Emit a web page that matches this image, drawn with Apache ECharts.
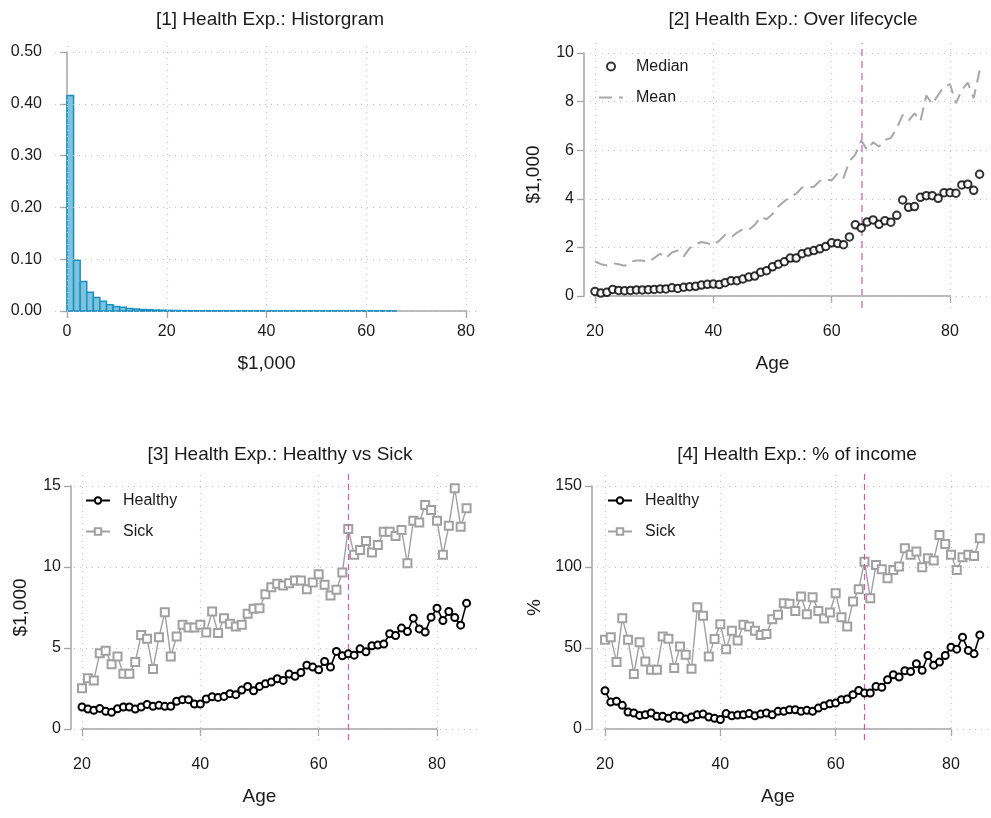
<!DOCTYPE html>
<html>
<head>
<meta charset="utf-8">
<script src="https://cdn.jsdelivr.net/npm/echarts@6/dist/echarts.min.js"></script>
<style>
  html, body { margin: 0; padding: 0; background: #fff; }
  #chart { width: 991px; height: 818px; }
</style>
</head>
<body>
<div id="chart"></div>
<script>
'use strict';

// ---- data ----
const ages = [20, 21, 22, 23, 24, 25, 26, 27, 28, 29, 30, 31, 32, 33, 34, 35, 36, 37, 38, 39,
  40, 41, 42, 43, 44, 45, 46, 47, 48, 49, 50, 51, 52, 53, 54, 55, 56, 57, 58, 59,
  60, 61, 62, 63, 64, 65, 66, 67, 68, 69, 70, 71, 72, 73, 74, 75, 76, 77, 78, 79,
  80, 81, 82, 83, 84, 85];

// [1] histogram, density per bin ($1,000 bins)
const histBinWidth = 1.32;
const histDensity = [0.416, 0.098, 0.057, 0.036, 0.026, 0.019, 0.012, 0.0085, 0.007, 0.0048,
  0.004, 0.003, 0.0025, 0.0018, 0.0014, 0.0011, 0.0009, 0.0007, 0.0006, 0.0005,
  0.0004, 0.0004, 0.0003, 0.0003, 0.00025, 0.0002, 0.0002, 0.0002, 0.00015, 0.00015,
  0.00012, 0.0001, 0.0001, 0.0001, 0.0001, 0.0001, 0.0001, 0.0001, 0.0001, 0.0001,
  0.0001, 0.0001, 0.0001, 0.0001, 0.0001, 0.0001, 0.0001, 0.0001, 0.0001, 0.0001];

// [2] over lifecycle ($1,000)
const medianExp = [0.19, 0.12, 0.15, 0.27, 0.23, 0.22, 0.23, 0.25, 0.25, 0.26,
  0.27, 0.29, 0.29, 0.34, 0.31, 0.36, 0.38, 0.40, 0.45, 0.48,
  0.49, 0.47, 0.55, 0.63, 0.63, 0.70, 0.78, 0.82, 0.98, 1.04,
  1.20, 1.31, 1.41, 1.56, 1.56, 1.74, 1.81, 1.87, 1.94, 2.04,
  2.19, 2.16, 2.11, 2.43, 2.93, 2.80, 3.05, 3.13, 2.95, 3.10,
  3.04, 3.32, 3.95, 3.65, 3.68, 4.06, 4.13, 4.13, 4.02, 4.25,
  4.25, 4.23, 4.57, 4.60, 4.35, 5.01];
const meanExp = [1.42, 1.31, 1.26, 1.35, 1.31, 1.24, 1.41, 1.46, 1.46, 1.40,
  1.56, 1.74, 1.56, 1.79, 1.87, 1.63, 1.97, 2.13, 2.22, 2.17,
  2.09, 2.28, 2.52, 2.41, 2.61, 2.75, 2.72, 2.93, 3.26, 3.16,
  3.37, 3.68, 3.90, 4.09, 4.21, 4.47, 4.46, 4.50, 4.73, 4.80,
  4.76, 5.05, 4.85, 5.55, 5.82, 6.40, 6.01, 6.32, 6.15, 6.42,
  6.50, 6.90, 7.45, 7.22, 7.52, 7.20, 8.25, 7.90, 8.27, 8.62,
  8.72, 7.93, 8.48, 8.78, 8.14, 9.28];

// [3] healthy vs sick ($1,000)
const healthyExp = [1.36, 1.23, 1.15, 1.27, 1.09, 1.03, 1.25, 1.36, 1.36, 1.23,
  1.36, 1.52, 1.40, 1.46, 1.40, 1.40, 1.71, 1.81, 1.81, 1.54,
  1.54, 1.85, 1.99, 1.95, 2.01, 2.18, 2.12, 2.40, 2.63, 2.36,
  2.63, 2.79, 2.90, 3.10, 3.00, 3.39, 3.25, 3.49, 3.94, 3.82,
  3.66, 4.17, 3.82, 4.79, 4.52, 4.64, 4.56, 4.95, 4.77, 5.14,
  5.18, 5.24, 5.88, 5.77, 6.23, 6.02, 6.84, 6.18, 5.98, 6.90,
  7.46, 6.70, 7.25, 6.88, 6.41, 7.77];
const sickExp = [2.51, 3.14, 3.00, 4.68, 4.83, 3.99, 4.48, 3.41, 3.41, 4.13,
  5.81, 5.57, 3.70, 5.67, 7.21, 4.48, 5.71, 6.43, 6.27, 6.27,
  6.43, 5.96, 7.25, 5.92, 6.84, 6.49, 6.33, 6.43, 7.11, 7.42,
  7.46, 8.32, 8.75, 8.96, 8.86, 9.00, 9.16, 9.16, 8.63, 9.04,
  9.55, 8.90, 8.24, 8.59, 9.66, 12.35, 10.75, 11.05, 11.61, 10.89,
  11.36, 12.18, 12.18, 11.92, 12.29, 10.23, 12.86, 12.74, 13.83, 13.52,
  12.86, 10.75, 12.55, 14.86, 12.49, 13.62];

// [4] % of income
const healthyPct = [23.6, 16.6, 17.1, 14.6, 10.5, 9.9, 8.4, 8.8, 9.9, 7.8,
  7.8, 6.6, 8.2, 7.8, 6.2, 7.4, 8.8, 9.2, 7.4, 6.6,
  5.8, 9.5, 8.2, 8.6, 8.8, 9.5, 8.2, 9.2, 9.9, 8.8,
  10.9, 10.9, 11.9, 11.9, 10.9, 11.5, 10.9, 12.9, 14.4, 15.6,
  16.0, 18.1, 18.5, 21.2, 23.8, 22.2, 22.2, 26.3, 25.7, 30.4,
  33.5, 32.1, 36.0, 35.5, 40.3, 36.2, 45.4, 39.4, 41.3, 45.4,
  50.5, 49.3, 56.7, 48.5, 46.4, 58.1];
const sickPct = [55.1, 56.7, 41.3, 68.4, 55.1, 33.9, 53.6, 41.7, 36.6, 36.6,
  57.1, 55.7, 37.6, 51.0, 45.8, 37.2, 75.2, 69.9, 44.8, 55.5,
  64.7, 49.3, 60.6, 54.7, 64.3, 63.3, 60.6, 58.1, 58.6, 67.8,
  70.5, 77.7, 77.3, 72.9, 81.8, 70.9, 81.4, 72.9, 68.2, 71.9,
  83.8, 69.0, 63.3, 78.7, 86.3, 103.3, 80.7, 101.3, 98.6, 93.1,
  98.2, 100.3, 111.6, 107.5, 109.5, 99.9, 105.4, 104.0, 119.8, 114.2,
  107.5, 98.2, 106.0, 107.5, 106.8, 117.7];

const retireAge = 65;
const histXTicks = [0, 20, 40, 60, 80];
const histYTicks = [0, 0.1, 0.2, 0.3, 0.4, 0.5];
const ageTicks = [20, 40, 60, 80];
const lifeYTicks = [0, 2, 4, 6, 8, 10];
const sickYTicks = [0, 5, 10, 15];
const pctYTicks = [0, 50, 100, 150];

// ---- look ----
const FONT = "'Liberation Sans', Arial, sans-serif";
const TXT = '#1a1a1a';
const AXIS = '#a4a4a4';
const GRIDC = '#c4c4c4';
const SICK = '#a0a0a0';

// pixel layout of each panel: tick box (b*) and full plot region (a*)
const panels = [
  { bx0: 67, bx1: 466, by0: 311, by1: 52, aL: 55, aR: 477, aT: 43, aB: 311,
    xt: [0, 80], yt: [0, 0.5], xi: 20, yi: 0.1, yOff: 15, xOff: 0 },
  { bx0: 595, bx1: 950, by0: 296, by1: 53, aL: 590, aR: 987, aT: 43, aB: 308,
    xt: [20, 80], yt: [0, 10], xi: 20, yi: 2, yOff: 11, xOff: 15 },
  { bx0: 82, bx1: 437, by0: 729, by1: 486, aL: 74, aR: 478, aT: 473, aB: 740,
    xt: [20, 80], yt: [0, 15], xi: 20, yi: 5, yOff: 11, xOff: 15 },
  { bx0: 605, bx1: 951, by0: 729, by1: 486, aL: 597, aR: 988, aT: 473, aB: 740,
    xt: [20, 80], yt: [0, 150], xi: 20, yi: 50, yOff: 13, xOff: 15 }
];

const grids = [], xAxes = [], yAxes = [];
panels.forEach(function (p, i) {
  const kx = (p.bx1 - p.bx0) / (p.xt[1] - p.xt[0]);
  const ky = (p.by0 - p.by1) / (p.yt[1] - p.yt[0]);
  // data grid (index 2i): full plot region, axes hidden
  grids.push({ left: p.aL, width: p.aR - p.aL, top: p.aT, height: p.aB - p.aT });
  // axis grid (index 2i+1): tick range only
  grids.push({ left: p.bx0, width: p.bx1 - p.bx0, top: p.by1, height: p.by0 - p.by1 });
  xAxes.push({
    type: 'value', gridIndex: 2 * i, show: false,
    min: p.xt[0] - (p.bx0 - p.aL) / kx, max: p.xt[1] + (p.aR - p.bx1) / kx
  });
  yAxes.push({
    type: 'value', gridIndex: 2 * i, show: false,
    min: p.yt[0] - (p.aB - p.by0) / ky, max: p.yt[1] + (p.by1 - p.aT) / ky
  });
  xAxes.push({
    type: 'value', gridIndex: 2 * i + 1, min: p.xt[0], max: p.xt[1], interval: p.xi,
    offset: p.xOff,
    name: i === 0 ? '$1,000' : 'Age', nameLocation: 'middle', nameGap: 43,
    nameTextStyle: { fontSize: 19, color: TXT, fontFamily: FONT },
    axisLine: { show: true, lineStyle: { color: AXIS, width: 1.5 } },
    axisTick: { show: true, length: 7, lineStyle: { color: AXIS, width: 1.3 } },
    axisLabel: { color: TXT, fontSize: 16, margin: 13, fontFamily: FONT },
    splitLine: { show: false }
  });
  yAxes.push({
    type: 'value', gridIndex: 2 * i + 1, min: p.yt[0], max: p.yt[1], interval: p.yi,
    offset: p.yOff,
    name: i === 0 ? '' : (i === 3 ? '%' : '$1,000'), nameLocation: 'middle',
    nameGap: i === 3 ? 48 : 41, nameRotate: 90,
    nameTextStyle: { fontSize: 19, color: TXT, fontFamily: FONT },
    axisLine: { show: true, lineStyle: { color: AXIS, width: 1.5 } },
    axisTick: { show: true, length: 7, lineStyle: { color: AXIS, width: 1.3 } },
    axisLabel: {
      color: TXT, fontSize: 16, margin: 10, fontFamily: FONT,
      formatter: i === 0 ? function (v) { return v.toFixed(2); } : null
    },
    splitLine: { show: false }
  });
});

function gridLines(idx, xt, yt) {
  return {
    type: 'line', xAxisIndex: 2 * idx, yAxisIndex: 2 * idx, data: [], z: 1,
    silent: true,
    markLine: {
      silent: true, symbol: ['none', 'none'], label: { show: false },
      animation: false,
      lineStyle: { color: GRIDC, width: 1.2, type: [1, 5] },
      data: xt.map(function (v) { return { xAxis: v }; })
        .concat(yt.map(function (v) { return { yAxis: v }; }))
    }
  };
}

function retireLine(idx, color, width, dash) {
  return {
    type: 'line', xAxisIndex: 2 * idx, yAxisIndex: 2 * idx, data: [], z: 4,
    silent: true,
    markLine: {
      silent: true, symbol: ['none', 'none'], label: { show: false },
      animation: false,
      lineStyle: { color: color, width: width, type: dash },
      data: [{ xAxis: retireAge }]
    }
  };
}

function pairs(xs, ys) {
  return xs.map(function (x, k) { return [x, ys[k]]; });
}

const histData = histDensity.map(function (h, k) {
  return [k * histBinWidth, (k + 1) * histBinWidth, h];
});

const healthyStyle = {
  type: 'line', name: 'Healthy', symbol: 'emptyCircle', symbolSize: 7,
  lineStyle: { color: '#000', width: 1.6 },
  itemStyle: { color: '#000', borderWidth: 1.5 }, z: 5
};
const sickStyle = {
  type: 'line', name: 'Sick', symbol: 'emptyRect', symbolSize: 8,
  lineStyle: { color: SICK, width: 1.4 },
  itemStyle: { color: SICK, borderWidth: 1.5 }, z: 4
};

const series = [
  gridLines(0, histXTicks, histYTicks),
  {
    type: 'custom', xAxisIndex: 0, yAxisIndex: 0, z: 3,
    encode: { x: [0, 1], y: 2 },
    data: histData,
    renderItem: function (params, api) {
      const p0 = api.coord([api.value(0), api.value(2)]);
      const p1 = api.coord([api.value(1), 0]);
      return {
        type: 'rect',
        shape: { x: p0[0], y: p0[1], width: p1[0] - p0[0], height: p1[1] - p0[1] },
        style: { fill: '#7cc3de', stroke: '#1a8fc4', lineWidth: 1.5 }
      };
    }
  },
  gridLines(1, ageTicks, lifeYTicks),
  retireLine(1, '#dc9fc6', 2, [7, 5]),
  {
    type: 'scatter', name: 'Median', xAxisIndex: 2, yAxisIndex: 2,
    symbol: 'emptyCircle', symbolSize: 7.5, z: 5,
    itemStyle: { color: '#000', borderColor: '#000', borderWidth: 1.6 },
    data: pairs(ages, medianExp)
  },
  {
    type: 'line', name: 'Mean', xAxisIndex: 2, yAxisIndex: 2, symbol: 'none', z: 3,
    lineStyle: { color: '#a8a8a8', width: 2, type: [13, 7] },
    itemStyle: { color: '#a8a8a8' },
    data: pairs(ages, meanExp)
  },
  gridLines(2, ageTicks, sickYTicks),
  retireLine(2, '#d55aa0', 1.2, [6, 4]),
  Object.assign({}, sickStyle, { xAxisIndex: 4, yAxisIndex: 4, data: pairs(ages, sickExp) }),
  Object.assign({}, healthyStyle, { xAxisIndex: 4, yAxisIndex: 4, data: pairs(ages, healthyExp) }),
  gridLines(3, ageTicks, pctYTicks),
  retireLine(3, '#d55aa0', 1.2, [6, 4]),
  Object.assign({}, sickStyle, { xAxisIndex: 6, yAxisIndex: 6, data: pairs(ages, sickPct) }),
  Object.assign({}, healthyStyle, { xAxisIndex: 6, yAxisIndex: 6, data: pairs(ages, healthyPct) })
];

function legendAt(left, top, names) {
  return {
    orient: 'vertical', left: left, top: top, data: names, padding: 0,
    itemWidth: 24, itemHeight: 8, itemGap: 12, selectedMode: false,
    textStyle: { fontSize: 16, color: TXT, fontFamily: FONT, lineHeight: 19, padding: [0, 0, 0, 8] }
  };
}

function titleAt(text, cx, top) {
  return {
    text: text, left: cx, top: top, textAlign: 'center',
    textStyle: { fontSize: 19, fontWeight: 'normal', color: TXT, fontFamily: FONT }
  };
}

const chart = echarts.init(document.getElementById('chart'), null, { renderer: 'canvas' });
chart.setOption({
  animation: false,
  backgroundColor: '#fff',
  textStyle: { fontFamily: FONT },
  title: [
    titleAt('[1] Health Exp.: Historgram', 265, 5),
    titleAt('[2] Health Exp.: Over lifecycle', 788, 5),
    titleAt('[3] Health Exp.: Healthy vs Sick', 275, 440),
    titleAt('[4] Health Exp.: % of income', 792, 440)
  ],
  legend: [
    legendAt(598, 57, ['Median', { name: 'Mean', itemStyle: { opacity: 0 } }]),
    legendAt(85, 491, ['Healthy', 'Sick']),
    legendAt(607, 491, ['Healthy', 'Sick'])
  ],
  grid: grids,
  xAxis: xAxes,
  yAxis: yAxes,
  series: series
});
</script>
</body>
</html>
